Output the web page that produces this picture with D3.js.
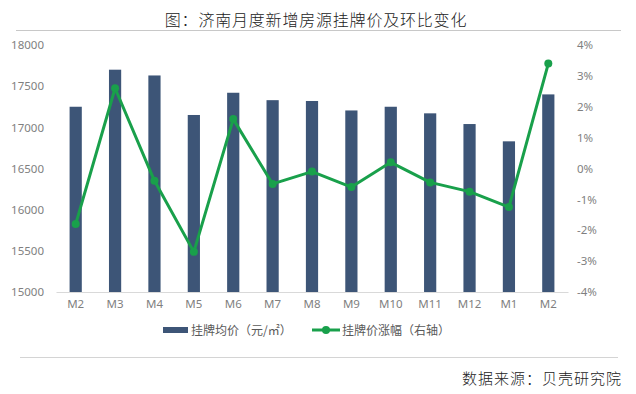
<!DOCTYPE html>
<html>
<head>
<meta charset="utf-8">
<script src="https://cdn.jsdelivr.net/npm/d3@7"></script>
<style>
  html, body { margin:0; padding:0; background:#fff; }
  svg text { font-family: "Noto Sans CJK SC", "Noto Sans", sans-serif; }
</style>
</head>
<body>
<div id="chart"></div>
<script>
// chart data
const months  = ["M2","M3","M4","M5","M6","M7","M8","M9","M10","M11","M12","M1","M2 "];
const prices  = [17250,17700,17630,17150,17420,17330,17320,17205,17250,17170,17040,16830,17400];
const changes = [-1.8,2.6,-0.4,-2.7,1.6,-0.5,-0.1,-0.6,0.2,-0.45,-0.75,-1.25,3.4];
const leftTicks  = [15000,15500,16000,16500,17000,17500,18000];
const rightTicks = [-4,-3,-2,-1,0,1,2,3,4];

const BAR   = "#3D5577";
const GREEN = "#19A04B";
const GREY  = "#7f7f7f";

const W = 636, H = 394;
const plot = { left:56, right:568, top:45, bottom:292 };

const svg = d3.select("#chart").append("svg")
  .attr("width", W).attr("height", H);

// title + rules
svg.append("text")
  .attr("x", 316).attr("y", 26)
  .attr("text-anchor", "middle")
  .style("font-size", "16px")
  .style("font-weight", "300")
  .style("letter-spacing", "0.8px")
  .style("fill", "#222")
  .text("图：济南月度新增房源挂牌价及环比变化");

svg.append("line")
  .attr("x1", 16).attr("x2", 621).attr("y1", 30.5).attr("y2", 30.5)
  .attr("stroke", "#c8c8c8").attr("stroke-width", 1.2);

svg.append("line")
  .attr("x1", 20).attr("x2", 618).attr("y1", 357.5).attr("y2", 357.5)
  .attr("stroke", "#d4d4d4").attr("stroke-width", 1.2);

svg.append("text")
  .attr("x", 622).attr("y", 384)
  .attr("text-anchor", "end")
  .style("font-size", "15px")
  .style("font-weight", "300")
  .style("letter-spacing", "1px")
  .style("fill", "#222")
  .text("数据来源：贝壳研究院");

// scales
const x = d3.scaleBand()
  .domain(months)
  .range([plot.left, plot.right])
  .paddingInner(0.69)
  .paddingOuter(0.345);

const yL = d3.scaleLinear().domain([15000, 18000]).range([plot.bottom, plot.top]);
const yR = d3.scaleLinear().domain([-4, 4]).range([plot.bottom, plot.top]);

// bars
svg.append("g").selectAll("rect")
  .data(prices)
  .enter()
  .append("rect")
  .attr("x", (d, i) => x(months[i]))
  .attr("y", d => yL(d))
  .attr("width", x.bandwidth())
  .attr("height", d => yL(15000) - yL(d))
  .attr("fill", BAR);

// axes
const axisL = svg.append("g")
  .attr("transform", `translate(${plot.left - 12},0)`)
  .call(d3.axisLeft(yL).tickValues(leftTicks).tickSize(0).tickPadding(0)
    .tickFormat(d3.format("d")));
axisL.select(".domain").remove();

const axisR = svg.append("g")
  .attr("transform", `translate(${plot.right + 9},0)`)
  .call(d3.axisRight(yR).tickValues(rightTicks).tickSize(0).tickPadding(0)
    .tickFormat(d => d + "%"));
axisR.select(".domain").remove();

const axisB = svg.append("g")
  .attr("transform", `translate(0,${plot.bottom})`)
  .call(d3.axisBottom(x).tickSize(0).tickPadding(8).tickFormat(d => d.trim()));
axisB.select(".domain").attr("stroke", "#d9d9d9").attr("stroke-width", 1.2);

svg.selectAll(".tick text")
  .style("font-size", "11.5px")
  .style("fill", GREY)
  .style("font-family", "'Noto Sans', sans-serif");

// line series
const cx = (d, i) => x(months[i]) + x.bandwidth() / 2;
const line = d3.line().x(cx).y(d => yR(d));

svg.append("path")
  .datum(changes)
  .attr("d", line)
  .attr("fill", "none")
  .attr("stroke", GREEN)
  .attr("stroke-width", 3)
  .attr("stroke-linejoin", "round");

svg.append("g").selectAll("circle")
  .data(changes)
  .enter()
  .append("circle")
  .attr("cx", cx)
  .attr("cy", d => yR(d))
  .attr("r", 4)
  .attr("fill", GREEN);

// legend
const lg = svg.append("g").attr("transform", "translate(0,330)");
lg.append("rect")
  .attr("x", 163).attr("y", -3).attr("width", 25).attr("height", 6)
  .attr("fill", BAR);
lg.append("text")
  .attr("x", 191).attr("y", 4.5)
  .style("font-size", "12px").style("fill", "#595959")
  .text("挂牌均价（元/㎡）");

lg.append("line")
  .attr("x1", 312).attr("x2", 340).attr("y1", 0).attr("y2", 0)
  .attr("stroke", GREEN).attr("stroke-width", 3);
lg.append("circle")
  .attr("cx", 326).attr("cy", 0).attr("r", 4).attr("fill", GREEN);
lg.append("text")
  .attr("x", 342).attr("y", 4.5)
  .style("font-size", "12px").style("fill", "#595959")
  .text("挂牌价涨幅（右轴）");
</script>
</body>
</html>
